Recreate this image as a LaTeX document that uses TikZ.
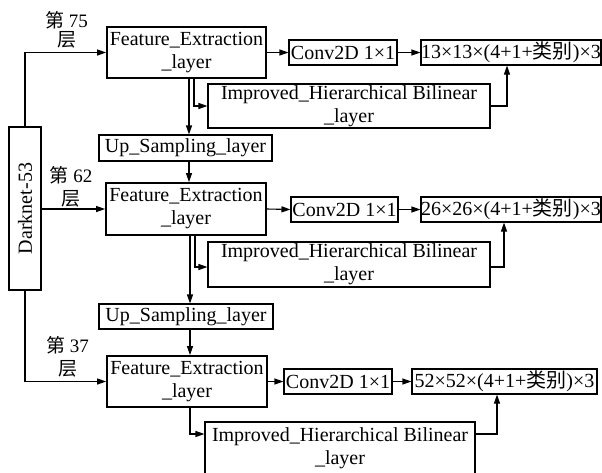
\documentclass[tikz,border=0pt]{standalone}
\usepackage{fontspec}
\setmainfont{Liberation Serif}
\newfontfamily\cjk{Noto Sans CJK SC}
\usetikzlibrary{arrows.meta}
\begin{document}
\begin{tikzpicture}[x=1pt,y=-1pt,
  base/.style={draw,inner sep=0pt,align=center,font=\fontsize{20}{23}\selectfont,line width=1.1pt},
  fe/.style={base,line width=1.8pt},
  lbl/.style={align=center,inner sep=0pt,font=\fontsize{19}{19}\selectfont},
  conn/.style={line width=1.1pt},
  arr/.style={conn,-{Triangle[length=9pt,width=6pt]}}]
\useasboundingbox (0,0) rectangle (602,472);
% nodes
\node[base,rotate=90,minimum width=163pt,minimum height=32pt] (dk) at (25,208.5) {Darknet-53};
\node[fe,minimum width=159pt,minimum height=51pt] (fe1) at (186.5,52.5) {Feature\_Extraction\\\_layer};
\node[fe,minimum width=160pt,minimum height=52pt] (fe2) at (186,209) {Feature\_Extraction\\\_layer};
\node[fe,minimum width=160pt,minimum height=51pt] (fe3) at (187,381.5) {Feature\_Extraction\\\_layer};
\node[base,minimum width=173pt,minimum height=26pt] (us1) at (185.5,148) {Up\_Sampling\_layer};
\node[base,minimum width=174pt,minimum height=25pt] (us2) at (186,316.5) {Up\_Sampling\_layer};
\node[base,minimum width=282pt,minimum height=44pt] (im1) at (349,106) {Improved\_Hierarchical Bilinear\\\_layer};
\node[base,minimum width=282pt,minimum height=45pt] (im2) at (349,264.5) {Improved\_Hierarchical Bilinear\\\_layer};
\node[base,minimum width=270pt,minimum height=52pt] (im3) at (340,448) {Improved\_Hierarchical Bilinear\\\_layer};
\node[base,minimum width=108pt,minimum height=25pt] (cv1) at (343,52.5) {Conv2D 1×1};
\node[base,minimum width=107pt,minimum height=25pt] (cv2) at (344.5,209.5) {Conv2D 1×1};
\node[base,minimum width=108pt,minimum height=25pt] (cv3) at (338,381.5) {Conv2D 1×1};
\node[base,minimum width=180pt,minimum height=25pt] (o1) at (511,52.5) {13×13×(4+1+{\cjk 类别})×3};
\node[base,minimum width=180pt,minimum height=25pt] (o2) at (511,209.5) {26×26×(4+1+{\cjk 类别})×3};
\node[base,minimum width=185pt,minimum height=25pt] (o3) at (504.5,381.5) {52×52×(4+1+{\cjk 类别})×3};
% labels
\node[lbl] (l75) at (66.5,29.5) {{\cjk 第} 75\\{\cjk 层}};
\node[lbl] (l62) at (71,187) {{\cjk 第} 62\\[4pt]{\cjk 层}};
\node[lbl] (l37) at (67.5,356.5) {{\cjk 第} 37\\[4pt]{\cjk 层}};
% helper coordinates
\coordinate (a1) at ([xshift=2.5pt]fe1.south);
\coordinate (b1) at ([xshift=7.5pt]fe1.south);
\coordinate (a2) at ([xshift=4pt]fe2.south);
\coordinate (b2) at ([xshift=9pt]fe2.south);
\coordinate (a3) at ([xshift=3pt]fe3.south);
\coordinate (u1) at ([xshift=-4pt]o1.south);
\coordinate (u2) at ([xshift=-7pt]o2.south);
\coordinate (u3) at ([xshift=-7.5pt]o3.south);
% connectors
\draw[arr] (dk.east) |- (fe1.west);
\draw[arr] (dk.south |- fe2.west) -- (fe2.west);
\draw[arr] (dk.west) |- (fe3.west);
\draw[arr] (fe1.east) -- (cv1.west);
\draw[arr] (cv1.east) -- (o1.west);
\draw[arr] (fe2.east) -- (cv2.west);
\draw[arr] (cv2.east) -- (o2.west);
\draw[arr] (fe3.east) -- (cv3.west);
\draw[arr] (cv3.east) -- (o3.west);
\draw[arr] (a1) -- (a1 |- us1.north);
\draw[arr] (b1) |- (im1.west);
\draw[arr] (a1 |- us1.south) -- (a1 |- fe2.north);
\draw[arr] (a2) -- (a2 |- us2.north);
\draw[arr] (b2) |- ([yshift=-2.5pt]im2.west);
\draw[arr] (a2 |- us2.south) -- (a2 |- fe3.north);
\draw[arr] (a3) |- ([yshift=14pt]im3.west);
\draw[arr] (im1.east) -| (u1);
\draw[arr] ([yshift=-2.5pt]im2.east) -| (u2);
\draw[arr] ([yshift=14pt]im3.east) -| (u3);
\end{tikzpicture}
\end{document}
